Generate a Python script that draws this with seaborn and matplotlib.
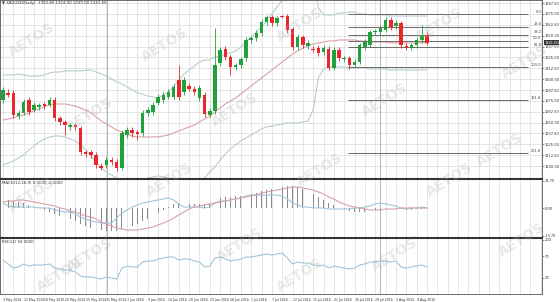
import numpy as np
import pandas as pd
import matplotlib
matplotlib.use("Agg")
import matplotlib.pyplot as plt
import matplotlib.transforms as mtransforms
import seaborn as sns

sns.set_style("white")
plt.rcParams['font.family'] = ['DejaVu Sans']

# ---------------- data ----------------
opens = [1276.0, 1284.0, 1284.0, 1257.6, 1261.0, 1276.0, 1264.5, 1268.0, 1271.4, 1270.3,
         1276.0, 1255.3, 1250.7, 1245.0, 1247.3, 1243.8, 1216.2, 1216.2, 1212.8, 1200.1,
         1201.3, 1207.0, 1204.7, 1197.8, 1235.8, 1241.5, 1239.2, 1238.1, 1261.0, 1262.2,
         1272.6, 1276.0, 1279.5, 1279.5, 1299.0, 1285.2, 1292.1, 1288.7, 1278.3, 1281.8,
         1258.8, 1263.4, 1318.6, 1334.7, 1325.5, 1314.0, 1316.3, 1324.3, 1345.0, 1347.3,
         1353.1, 1365.7, 1371.5, 1364.6, 1373.0, 1372.6, 1357.7, 1337.0, 1348.5, 1338.1,
         1334.7, 1335.8, 1331.2, 1334.7, 1312.8, 1333.5, 1323.2, 1324.3, 1316.3, 1319.7,
         1337.0, 1339.3, 1354.2, 1354.2, 1356.5, 1368.0, 1361.1, 1364.6, 1338.1, 1335.8,
         1339.3, 1345.0, 1350.8]
highs = [1291.0, 1289.0, 1287.0, 1264.0, 1277.0, 1279.0, 1274.0, 1273.0, 1274.0, 1279.0,
         1279.0, 1258.0, 1253.0, 1250.0, 1250.0, 1246.0, 1219.0, 1219.0, 1216.0, 1203.0,
         1210.0, 1210.0, 1208.0, 1242.0, 1245.0, 1245.0, 1242.0, 1264.0, 1268.0, 1274.0,
         1283.0, 1285.0, 1289.0, 1294.0, 1316.0, 1303.0, 1296.0, 1292.0, 1293.0, 1285.0,
         1267.0, 1359.0, 1337.0, 1338.0, 1328.0, 1319.0, 1326.0, 1348.0, 1350.0, 1356.0,
         1369.0, 1374.0, 1374.0, 1373.0, 1374.0, 1374.5, 1360.0, 1352.0, 1351.0, 1345.0,
         1338.0, 1339.0, 1339.0, 1338.0, 1337.0, 1337.0, 1327.0, 1327.0, 1323.0, 1342.0,
         1346.0, 1357.0, 1358.0, 1362.0, 1371.0, 1371.0, 1368.0, 1367.0, 1341.0, 1342.0,
         1348.0, 1362.0, 1354.0]
lows = [1273.0, 1279.0, 1255.0, 1254.0, 1259.0, 1259.0, 1262.0, 1265.0, 1266.0, 1268.0,
        1252.0, 1247.0, 1236.0, 1242.0, 1242.0, 1213.0, 1211.0, 1209.0, 1198.0, 1195.0,
        1198.0, 1201.0, 1194.0, 1195.0, 1232.0, 1234.0, 1230.0, 1235.0, 1258.0, 1259.0,
        1270.0, 1273.0, 1277.0, 1277.0, 1276.0, 1282.0, 1286.0, 1282.0, 1275.0, 1256.0,
        1255.0, 1260.0, 1315.0, 1322.0, 1305.0, 1311.0, 1313.0, 1321.0, 1342.0, 1344.0,
        1350.0, 1362.0, 1361.0, 1361.0, 1370.0, 1353.0, 1334.0, 1334.0, 1336.0, 1335.0,
        1331.0, 1327.0, 1328.0, 1310.0, 1310.0, 1321.0, 1320.0, 1312.0, 1313.5, 1317.0,
        1334.0, 1337.0, 1351.0, 1351.0, 1354.0, 1357.0, 1358.0, 1336.0, 1333.0, 1333.0,
        1336.0, 1342.0, 1339.0]
closes = [1287.5, 1281.8, 1258.8, 1261.0, 1273.7, 1262.2, 1270.3, 1270.3, 1269.1, 1276.0,
          1255.3, 1250.7, 1247.3, 1247.3, 1245.0, 1216.2, 1213.9, 1212.8, 1201.3, 1197.8,
          1207.0, 1204.7, 1197.8, 1238.1, 1241.5, 1238.1, 1236.9, 1261.0, 1264.5, 1270.3,
          1279.5, 1281.8, 1285.2, 1291.0, 1279.5, 1299.0, 1288.7, 1285.2, 1289.8, 1259.9,
          1263.4, 1316.3, 1333.5, 1325.5, 1314.0, 1316.3, 1323.2, 1345.0, 1347.3, 1353.1,
          1365.7, 1371.5, 1364.6, 1370.3, 1372.0, 1356.5, 1337.0, 1348.5, 1339.3, 1341.6,
          1334.0, 1330.1, 1335.8, 1312.8, 1333.5, 1324.3, 1323.8, 1316.3, 1319.7, 1339.3,
          1342.7, 1354.2, 1354.8, 1358.8, 1368.0, 1360.0, 1364.6, 1339.3, 1335.8, 1339.3,
          1345.0, 1350.8, 1341.6]

bb_upper = [1304.8, 1304.8, 1304.8, 1305.9, 1304.8, 1303.6, 1303.6, 1303.6, 1304.8, 1307.1,
            1308.2, 1308.2, 1309.4, 1309.4, 1309.4, 1309.4, 1310.5, 1310.5, 1308.2, 1305.9,
            1303.6, 1300.2, 1296.7, 1294.4, 1291.0, 1287.5, 1284.1, 1282.9, 1280.6, 1279.5,
            1278.3, 1281.8, 1285.2, 1292.1, 1299.0, 1305.9, 1310.5, 1315.1, 1319.7, 1322.0,
            1322.0, 1325.5, 1326.6, 1328.9, 1330.1, 1332.4, 1337.0, 1342.7, 1348.5, 1354.2,
            1360.0, 1366.9, 1374.9, 1383.0, 1391.0, 1399.1, 1408.3, 1415.2, 1420.9, 1424.4,
            1416.3, 1381.8, 1373.8, 1373.8, 1373.8, 1376.1, 1376.1, 1377.2, 1377.2, 1374.9,
            1374.9, 1373.8, 1373.8, 1373.8, 1373.8, 1372.6, 1372.6, 1372.6, 1372.6, 1372.6,
            1372.6, 1372.6, 1372.6]
bb_mid = [1253.0, 1254.2, 1255.3, 1257.6, 1258.8, 1261.1, 1263.4, 1265.7, 1268.0, 1270.3,
          1271.4, 1271.4, 1271.4, 1270.3, 1269.1, 1266.8, 1264.5, 1261.1, 1256.5, 1251.9,
          1248.4, 1245.0, 1241.5, 1239.2, 1236.9, 1234.6, 1233.5, 1233.5, 1233.5, 1233.5,
          1233.5, 1234.6, 1235.8, 1238.1, 1240.4, 1242.7, 1245.0, 1247.3, 1250.7, 1254.2,
          1257.6, 1262.2, 1266.8, 1271.4, 1274.9, 1278.3, 1282.9, 1287.5, 1292.1, 1296.7,
          1301.3, 1305.9, 1310.5, 1315.1, 1319.7, 1324.3, 1328.9, 1332.4, 1335.8, 1338.1,
          1340.4, 1341.6, 1342.7, 1343.9, 1343.9, 1345.0, 1345.0, 1345.0, 1345.0, 1343.9,
          1343.9, 1342.7, 1342.7, 1342.7, 1342.7, 1341.6, 1341.6, 1341.6, 1341.6, 1341.6,
          1341.6, 1341.6, 1341.6]
bb_lower = [1201.3, 1203.6, 1205.9, 1209.3, 1212.8, 1218.5, 1223.1, 1227.7, 1231.2, 1233.5,
            1234.6, 1234.6, 1233.5, 1231.2, 1228.9, 1224.3, 1218.5, 1211.6, 1204.7, 1197.8,
            1193.2, 1189.8, 1186.3, 1184.0, 1182.9, 1181.7, 1182.9, 1184.0, 1186.3, 1187.5,
            1188.6, 1187.5, 1186.3, 1184.0, 1181.7, 1179.4, 1179.4, 1179.4, 1181.7, 1186.3,
            1193.2, 1199.0, 1207.0, 1213.9, 1219.7, 1224.3, 1228.9, 1232.3, 1235.8, 1239.2,
            1242.7, 1245.0, 1246.1, 1247.3, 1248.4, 1249.6, 1249.6, 1249.6, 1250.7, 1251.9,
            1264.5, 1301.3, 1311.7, 1314.0, 1314.0, 1314.0, 1314.0, 1312.8, 1312.8, 1312.8,
            1312.8, 1311.7, 1311.7, 1311.7, 1311.7, 1310.5, 1310.5, 1310.5, 1310.5, 1310.5,
            1310.5, 1310.5, 1310.5]

macd_hist = [4, 4, 3.5, 3, 2.5, 1.5, 1, 0, -1, -2,
             -3, -4, -4.5, -5.5, -6.5, -8, -9, -10, -10.5, -11,
             -11.5, -11.5, -11.5, -10.5, -9.5, -9, -8, -6.5, -5.5, -4,
             -2.5, -1, 0.5, 2, 2.5, 2.5, 2, 2, 2, 2,
             2.5, 4, 5, 5.5, 5.5, 6, 6, 6.5, 7, 7.5,
             8.5, 9, 9.5, 10, 10.5, 11, 11, 10.5, 9.5, 8.5,
             7, 5.5, 4, 2.5, 1.5, 0.5, -0.5, -1.5, -2, -2,
             -2, -1.5, -1, -0.5, 0, 0, 0, -0.5, -1, -1,
             -0.5, -0.5, -0.5]
macd_signal = [3, 3.5, 3.5, 4, 4, 3.5, 3, 2.5, 2, 1.5,
               1, 0, -0.5, -1.5, -2, -3, -4, -4.5, -5.5, -7,
               -8, -9, -10, -10.5, -11, -11, -11, -10.5, -10, -9.5,
               -8.5, -7.5, -6.5, -5, -3.5, -2, -0.5, 0.5, 1, 1.5,
               2, 2.5, 3, 3.5, 4, 4.5, 5, 5.5, 6, 6.5,
               7.5, 8, 8.5, 9, 9.5, 10, 10.5, 10.5, 10, 9.5,
               9, 8, 7, 5.5, 4.5, 3, 2, 1, 0.5, 0,
               -0.5, -1, -1, -1, -0.5, -0.5, -0.5, 0, 0, 0,
               0, 0, 0]
macd_fast = [2.5, 1, 0.5, 0.5, 0.5, 0.5, 0.5, 0, 0, 0,
             -1, -1.5, -2, -2, -3, -4.5, -5.5, -6.5, -7, -7.5,
             -7.5, -7.5, -5, -2.5, -1, 0.5, 1.5, 2.5, 3, 3.5,
             4, 4.5, 5, 4, 2, 0.5, 0.5, 0.5, 0.5, 0,
             0.5, 2.5, 3.5, 3.5, 4, 4.5, 5, 6, 6.5, 6.5,
             6.5, 6.5, 6.5, 6.5, 6, 4.5, 2.5, 1.5, 0.5, 0.5,
             0, 0, 0, -0.5, -0.5, -0.5, -0.5, -0.5, 0, 0,
             0.5, 1, 2, 2.5, 2, 1.5, 1, 0, -0.5, 0,
             0, 0.5, 0]

rsi = [63.0, 55.6, 48.1, 50.0, 55.6, 51.9, 53.7, 53.7, 53.7, 55.6,
       48.1, 46.3, 44.4, 44.4, 40.7, 33.3, 31.5, 31.5, 29.6, 27.8,
       31.5, 29.6, 27.8, 48.1, 51.9, 50.0, 50.0, 59.3, 61.1, 61.1,
       64.8, 66.7, 68.5, 68.5, 63.0, 64.8, 64.8, 61.1, 59.3, 50.0,
       51.9, 66.7, 68.5, 64.8, 61.1, 63.0, 64.8, 68.5, 68.5, 70.4,
       72.2, 74.1, 72.2, 74.1, 75.9, 66.7, 55.6, 59.3, 57.4, 57.4,
       53.7, 51.9, 53.7, 48.1, 51.9, 50.0, 48.1, 46.3, 48.1, 53.7,
       55.6, 59.3, 59.3, 61.1, 61.1, 59.3, 61.1, 50.0, 48.1, 50.0,
       51.9, 53.7, 50.0]

date_labels = ["3 May 2016", "11 May 2016", "16 May 2016", "20 May 2016", "25 May 2016",
               "31 May 2016", "3 Jun 2016", "9 Jun 2016", "14 Jun 2016", "20 Jun 2016",
               "23 Jun 2016", "28 Jun 2016", "1 Jul 2016", "7 Jul 2016", "12 Jul 2016",
               "15 Jul 2016", "21 Jul 2016", "26 Jul 2016", "29 Jul 2016", "3 Aug 2016",
               "9 Aug 2016"]

fib_labels = ["0.0", "23.6", "38.2", "50.0", "61.8", "100.0", "161.8", "261.8"]
fib_prices = [1374.5, 1360.1, 1351.2, 1344.0, 1336.8, 1313.5, 1275.8, 1214.8]

price_ticks = [1200.00, 1212.50, 1225.00, 1237.50, 1250.00, 1262.50, 1275.00, 1287.50,
               1300.00, 1312.50, 1325.00, 1337.50, 1350.00, 1362.50, 1375.00, 1387.50]
macd_ticks = [-13.75, 0.0, 13.75]
rsi_ticks = [30, 70, 100]

title_main = "\u25bc XAUUSD(Daily)  1350.80 1354.00 1339.00 1341.60"
title_macd = "MACD(12,26,9) 0.0000 -0.5000"
title_rsi = "RSI(14) 50.0000"

# ---------------- figure ----------------
W, H = 560, 302
RIGHT = 542
fig = plt.figure(figsize=(W / 100, H / 100), dpi=100)
fig.patch.set_facecolor("white")


def rect(top, bottom, left=0, right=RIGHT):
    return [left / W, 1 - bottom / H, (right - left) / W, (bottom - top) / H]


ax1 = fig.add_axes(rect(0, 179))
ax2 = fig.add_axes(rect(179, 238), sharex=ax1)
ax3 = fig.add_axes(rect(238, 294), sharex=ax1)

n = len(closes)
idx = np.arange(n)
px_per_bar = 5.17
xlim = (-3 / px_per_bar, (RIGHT - 3) / px_per_bar)

GREEN = "#22a03c"
RED = "#e8262b"
GRID = "#dadada"
BAND = "#b7cdd0"
PINK = "#d8a1aa"
LBLUE = "#9fc6d9"

for ax in (ax1, ax2, ax3):
    ax.set_facecolor("white")
    ax.set_xlim(*xlim)
    ax.set_xticks(np.arange(0, 106, 2), minor=True)
    ax.grid(True, which="both", axis="x", color=GRID, lw=0.5)
    ax.set_axisbelow(True)
    ax.yaxis.tick_right()
    ax.tick_params(axis="y", labelsize=2.6, length=1.2, pad=0.8, colors="#333333", width=0.4)
    ax.tick_params(axis="x", which="both", length=0)
    for s in ax.spines.values():
        s.set_color("#555555")
        s.set_linewidth(0.6)

# ---------------- main price panel ----------------
ax1.set_ylim(1185.15, 1391.0)
ax1.yaxis.set_ticks(price_ticks)
ax1.set_yticklabels([f"{v:.2f}" for v in price_ticks])
ax1.grid(True, axis="y", color=GRID, lw=0.5)

df = pd.DataFrame({"i": idx, "upper": bb_upper, "mid": bb_mid, "lower": bb_lower})
sns.lineplot(data=df, x="i", y="upper", ax=ax1, color=BAND, lw=0.8)
sns.lineplot(data=df, x="i", y="lower", ax=ax1, color=BAND, lw=0.8)
sns.lineplot(data=df, x="i", y="mid", ax=ax1, color=PINK, lw=0.8)

o = np.array(opens)
c = np.array(closes)
colors = [GREEN if cc >= oo else RED for oo, cc in zip(o, c)]
ax1.vlines(idx, lows, highs, colors=colors, lw=0.6, zorder=3)
body_h = np.maximum(np.abs(c - o), 0.9)
ax1.bar(idx, body_h, bottom=np.minimum(o, c), width=0.68, color=colors, lw=0, zorder=4)

# fibonacci levels
ax1.hlines(fib_prices, 66.7, 101.6, colors="#6a6a6a", lw=0.7, zorder=2)
for lab, p in zip(fib_labels, fib_prices):
    ax1.text(104.1, p + 0.5, lab, ha="right", va="bottom", fontsize=2.6, color="#444444")

# current price tag
trans = mtransforms.blended_transform_factory(ax1.transAxes, ax1.transData)
ax1.text(1.004, closes[-1], f"{closes[-1]:.2f}", transform=trans, fontsize=2.6, color="white",
         va="center", ha="left",
         bbox=dict(boxstyle="square,pad=0.15", fc="#333333", ec="none"), clip_on=False)

ax1.text(0.004, 0.992, title_main, transform=ax1.transAxes, fontsize=2.8, color="#333333",
         va="top", ha="left")
ax1.set_xlabel("")
ax1.set_ylabel("")
ax1.tick_params(axis="x", labelbottom=False)

# ---------------- MACD panel ----------------
ax2.set_ylim(-15.0, 14.5)
ax2.bar(idx, macd_hist, width=0.16, color="#8a8a8a", lw=0, zorder=2)
dm = pd.DataFrame({"i": idx, "signal": macd_signal, "fast": macd_fast})
sns.lineplot(data=dm, x="i", y="fast", ax=ax2, color=LBLUE, lw=0.8)
sns.lineplot(data=dm, x="i", y="signal", ax=ax2, color=PINK, lw=0.8)
ax2.yaxis.set_ticks(macd_ticks)
ax2.set_yticklabels([f"{v:.2f}" for v in macd_ticks])
ax2.text(0.004, 0.97, title_macd, transform=ax2.transAxes, fontsize=2.8, color="#333333",
         va="top", ha="left")
ax2.set_xlabel("")
ax2.set_ylabel("")
ax2.tick_params(axis="x", labelbottom=False)
ax2.spines["top"].set_linewidth(1.5)
ax2.spines["top"].set_color("#333333")

# ---------------- RSI panel ----------------
ax3.set_ylim(0, 103.7)
dr = pd.DataFrame({"i": idx, "rsi": rsi})
sns.lineplot(data=dr, x="i", y="rsi", ax=ax3, color=LBLUE, lw=0.8)
ax3.yaxis.set_ticks(rsi_ticks)
ax3.set_yticklabels([str(v) for v in rsi_ticks])
ax3.text(0.004, 0.97, title_rsi, transform=ax3.transAxes, fontsize=2.8, color="#333333",
         va="top", ha="left")
ax3.set_xlabel("")
ax3.set_ylabel("")
ax3.spines["top"].set_linewidth(1.5)
ax3.spines["top"].set_color("#333333")

major = np.arange(0, 4 * len(date_labels), 4)
ax3.set_xticks(major)
ax3.set_xticklabels(date_labels)
ax3.tick_params(axis="x", labelsize=2.25, colors="#333333", pad=1.2, length=1.5, width=0.4)
for lab in ax3.get_xticklabels():
    lab.set_ha("left")

# period separators
for ax in (ax1, ax2, ax3):
    for xs in (20.1, 72.9):
        ax.axvline(xs, color="#a8a8a8", lw=0.6, zorder=1)

# ---------------- watermarks ----------------
marks = [(32, 40), (165, 45), (300, 25), (440, 25), (525, 62),
         (90, 115), (235, 110), (385, 100), (500, 150),
         (32, 195), (170, 180), (320, 170), (450, 180),
         (90, 255), (240, 245), (395, 255), (522, 240), (60, 275), (300, 275)]
for (mx, my) in marks:
    fig.text(mx / W, 1 - my / H, "AETOS", rotation=32, fontsize=10, fontweight="bold",
             color="#b0b0b0", alpha=0.28, ha="center", va="center")

fig.savefig("out.png", dpi=100, facecolor="white")
